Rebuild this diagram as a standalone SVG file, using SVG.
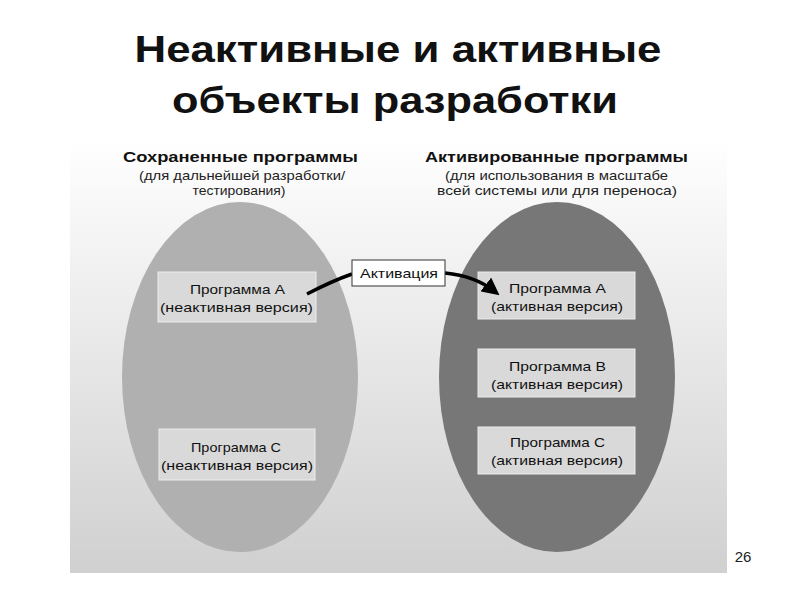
<svg xmlns="http://www.w3.org/2000/svg" width="800" height="600" viewBox="0 0 800 600">
<style>
.t{font-family:"Liberation Sans",Arial,sans-serif;text-anchor:middle;fill:#111}
.title{font-size:37px;font-weight:bold}
.hd{font-size:15.5px;font-weight:bold}
.sub{font-size:13.5px;fill:#222}
.box{fill:#d9d9d9;stroke:#ececec;stroke-width:1}
.bt{font-size:13.5px}
.conn{fill:none;stroke:#000;stroke-width:3.5}
</style>
<defs>
<linearGradient id="bg" x1="0" y1="0" x2="0" y2="1">
<stop offset="0" stop-color="#ffffff"/>
<stop offset="0.25" stop-color="#f3f3f3"/>
<stop offset="1" stop-color="#d0d0d0"/>
</linearGradient>
<marker id="ah" markerWidth="5" markerHeight="5" refX="3" refY="2.5" orient="auto" markerUnits="strokeWidth">
<path d="M0,0 L5,2.5 L0,5 Z" fill="#000"/>
</marker>
</defs>
<rect width="800" height="600" fill="#fff"/>
<text class="t title" x="398" y="62" textLength="527" lengthAdjust="spacingAndGlyphs">Неактивные и активные</text>
<text class="t title" x="395" y="113" textLength="446" lengthAdjust="spacingAndGlyphs">объекты разработки</text>
<rect x="70" y="140" width="657" height="433" fill="url(#bg)"/>
<text x="743" y="562" font-family="Liberation Sans,Arial,sans-serif" font-size="15" fill="#222" text-anchor="middle">26</text>

<g id="saved">
<ellipse cx="240" cy="377" rx="118" ry="175" fill="#b0b0b0"/>
<text class="t hd" x="240.5" y="162" textLength="235" lengthAdjust="spacingAndGlyphs">Сохраненные программы</text>
<text class="t sub" x="242" y="180" textLength="206" lengthAdjust="spacingAndGlyphs">(для дальнейшей разработки/</text>
<text class="t sub" x="239" y="195" textLength="93" lengthAdjust="spacingAndGlyphs">тестирования)</text>
</g>
<g id="active">
<ellipse cx="557" cy="377" rx="118" ry="175" fill="#777777"/>
<text class="t hd" x="556.5" y="162" textLength="263" lengthAdjust="spacingAndGlyphs">Активированные программы</text>
<text class="t sub" x="556.5" y="180" textLength="223" lengthAdjust="spacingAndGlyphs">(для использования в масштабе</text>
<text class="t sub" x="557" y="195" textLength="240" lengthAdjust="spacingAndGlyphs">всей системы или для переноса)</text>
</g>
<g id="progA-inactive">
<rect class="box" x="158" y="272" width="158" height="50"/>
<text class="t bt" x="237.5" y="294" textLength="95" lengthAdjust="spacingAndGlyphs">Программа А</text>
<text class="t bt" x="236.5" y="312" textLength="153" lengthAdjust="spacingAndGlyphs">(неактивная версия)</text>
</g>
<g id="progC-inactive">
<rect class="box" x="159" y="429" width="156" height="51"/>
<text class="t bt" x="236" y="452" textLength="90" lengthAdjust="spacingAndGlyphs">Программа С</text>
<text class="t bt" x="237" y="470" textLength="152" lengthAdjust="spacingAndGlyphs">(неактивная версия)</text>
</g>
<g id="progA-active">
<rect class="box" x="478" y="272" width="157" height="47"/>
<text class="t bt" x="557.5" y="293" textLength="97" lengthAdjust="spacingAndGlyphs">Программа А</text>
<text class="t bt" x="557" y="311" textLength="132" lengthAdjust="spacingAndGlyphs">(активная версия)</text>
</g>
<g id="progB-active">
<rect class="box" x="478" y="349" width="157" height="48"/>
<text class="t bt" x="557.5" y="371" textLength="97" lengthAdjust="spacingAndGlyphs">Программа В</text>
<text class="t bt" x="557" y="389" textLength="132" lengthAdjust="spacingAndGlyphs">(активная версия)</text>
</g>
<g id="progC-active">
<rect class="box" x="478" y="427" width="157" height="47"/>
<text class="t bt" x="557.5" y="447" textLength="95" lengthAdjust="spacingAndGlyphs">Программа С</text>
<text class="t bt" x="557" y="465" textLength="132" lengthAdjust="spacingAndGlyphs">(активная версия)</text>
</g>
<g id="connectors">
<path class="conn" d="M307,294 Q332,281 352,274"/>
<path class="conn" d="M445,273 Q475,276 494,291" marker-end="url(#ah)"/>
</g>
<g id="activation">
<rect x="352" y="260" width="93" height="26" fill="#fff" stroke="#333" stroke-width="1"/>
<text class="t bt" x="399" y="278" textLength="78" lengthAdjust="spacingAndGlyphs">Активация</text>
</g>
</svg>
